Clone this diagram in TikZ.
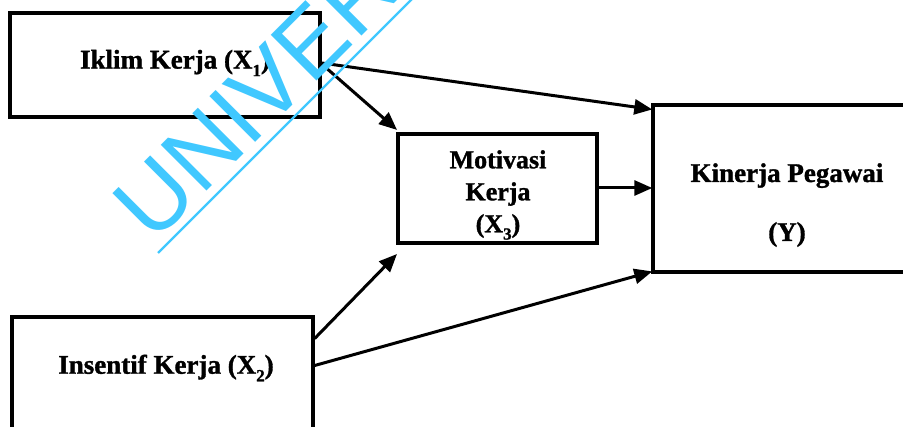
\documentclass[tikz,border=0pt]{standalone}
\usepackage{fontspec}
\setmainfont{Liberation Serif}[BoldFeatures={FakeBold=1.2}]
\newfontfamily\wmfont{Liberation Sans}
\usetikzlibrary{arrows.meta}
\definecolor{wmcyan}{RGB}{64,200,255}
\newcommand{\lowidx}[1]{\raisebox{-0.28em}{\fontsize{17}{17}\selectfont #1}}
\tikzset{
  box/.style={draw=black, line width=3.4pt, rectangle, inner sep=0pt},
  lbl/.style={font=\fontsize{27}{32}\selectfont\bfseries, align=center, inner sep=0pt},
  arr/.style={line width=3pt, -{Triangle[length=18pt,width=15pt]}, shorten >=-1pt}
}
\begin{document}
\begin{tikzpicture}[x=1pt, y=-1pt]
  \useasboundingbox (0,0) rectangle (903,427);
  \clip (0,0) rectangle (903,427);
  \fill[white] (0,0) rectangle (903,427);

  % boxes
  \node[box, minimum width=310pt, minimum height=104pt] (iklim) at (165,65) {};
  \node[box, minimum width=301pt, minimum height=123pt] (insentif) at (162.5,378.5) {};
  \node[box, minimum width=199pt, minimum height=109pt] (motivasi) at (497.5,188.5) {};
  \node[box, minimum width=262pt, minimum height=167pt] (kinerja) at (784,188.5) {};

  % labels
  \node[lbl] (tiklim) at (175,63) {Iklim Kerja (X\lowidx{1})};
  \node[lbl] (tinsentif) at (166,368) {Insentif Kerja (X\lowidx{2})};
  \node[lbl, font=\fontsize{26}{32}\selectfont\bfseries] (tmotivasi) at (498,195) {Motivasi\\Kerja\\(X\lowidx{3})};
  \node[lbl, font=\fontsize{27}{59}\selectfont\bfseries] (tkinerja) at (787,205) {Kinerja Pegawai\\(Y)};

  % connectors
  \draw[arr] ([yshift=2pt]iklim.east) -- ([yshift=-6pt]kinerja.north west);
  \draw[arr] ([yshift=1pt]iklim.east) -- ([yshift=3pt]motivasi.north west);
  \draw[arr] ([yshift=40pt]insentif.east) -- ([yshift=-10pt]motivasi.south west);
  \draw[arr] ([yshift=13pt]insentif.east) -- ([yshift=2pt]kinerja.south west);
  \draw[arr] ([yshift=0.5pt]motivasi.east) -- ([yshift=0.5pt]kinerja.west);

  % watermark
  \node[text=wmcyan, font=\wmfont\fontsize{94}{94}\selectfont, rotate=45,
        anchor=base west, inner sep=0pt] (wm) at (153,245) {UNIVERS};
  \coordinate (wmA) at (158,253);
  \coordinate (wmB) at (425,-14);
  \draw[wmcyan, line width=2.4pt] (wmA) -- (wmB);
\end{tikzpicture}
\end{document}
